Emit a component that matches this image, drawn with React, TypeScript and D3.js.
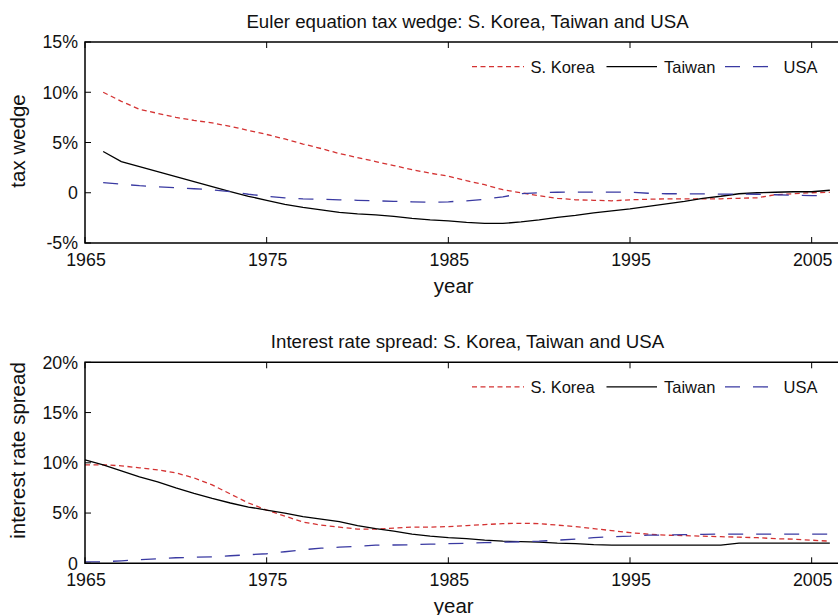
import React from "react";
import * as d3 from "d3";

const yearsTop: number[] = d3.range(1966, 2007);
const yearsBottom: number[] = d3.range(1965, 2007);

const wedgeKorea: number[] = [
  10.0, 9.1, 8.3, 7.9, 7.5, 7.2, 6.95, 6.6, 6.2, 5.8, 5.35, 4.85, 4.4, 3.9, 3.5, 3.1, 2.7, 2.3, 1.95,
  1.65, 1.2, 0.8, 0.3, 0.0, -0.3, -0.55, -0.7, -0.75, -0.8, -0.7, -0.65, -0.6, -0.6, -0.6, -0.6,
  -0.55, -0.5, -0.2, -0.1, 0.0, 0.05,
];
const wedgeTaiwan: number[] = [
  4.1, 3.1, 2.6, 2.1, 1.6, 1.1, 0.6, 0.1, -0.35, -0.75, -1.15, -1.45, -1.7, -1.95, -2.1, -2.2, -2.35,
  -2.55, -2.7, -2.8, -2.95, -3.05, -3.05, -2.9, -2.7, -2.45, -2.25, -2.0, -1.8, -1.6, -1.35, -1.1,
  -0.85, -0.55, -0.35, -0.1, 0.0, 0.05, 0.1, 0.1, 0.25,
];
const wedgeUSA: number[] = [
  1.0, 0.85, 0.7, 0.6, 0.5, 0.4, 0.3, 0.1, -0.15, -0.35, -0.5, -0.6, -0.65, -0.7, -0.75, -0.8, -0.85,
  -0.9, -0.95, -0.9, -0.8, -0.65, -0.4, -0.1, 0.0, 0.05, 0.07, 0.07, 0.07, 0.05, -0.05, -0.1, -0.1,
  -0.12, -0.13, -0.13, -0.15, -0.2, -0.25, -0.28, -0.3,
];

const spreadKorea: number[] = [
  9.8, 9.8, 9.7, 9.5, 9.3, 9.0, 8.5, 7.8, 6.9, 6.0, 5.3, 4.7, 4.1, 3.8, 3.6, 3.4, 3.4, 3.5, 3.6, 3.6,
  3.65, 3.75, 3.85, 3.95, 3.98, 3.95, 3.8, 3.65, 3.45, 3.25, 3.05, 2.9, 2.8, 2.75, 2.7, 2.65, 2.6,
  2.55, 2.45, 2.4, 2.3, 2.2,
];
const spreadTaiwan: number[] = [
  10.3, 9.8, 9.2, 8.6, 8.1, 7.5, 6.95, 6.45, 6.0, 5.6, 5.3, 5.0, 4.65, 4.4, 4.15, 3.75, 3.45, 3.2,
  2.9, 2.7, 2.55, 2.45, 2.3, 2.2, 2.15, 2.1, 2.0, 1.95, 1.85, 1.8, 1.8, 1.8, 1.8, 1.8, 1.8, 1.8, 2.0,
  2.0, 2.0, 2.0, 2.0, 2.0,
];
const spreadUSA: number[] = [
  0.15, 0.15, 0.25, 0.35, 0.45, 0.55, 0.6, 0.65, 0.75, 0.85, 0.95, 1.15, 1.35, 1.5, 1.6, 1.7, 1.8,
  1.82, 1.85, 1.9, 1.95, 2.0, 2.05, 2.1, 2.15, 2.2, 2.3, 2.4, 2.55, 2.65, 2.7, 2.8, 2.82, 2.85, 2.88,
  2.9, 2.9, 2.9, 2.9, 2.9, 2.9, 2.9,
];

const xTicks: number[] = [1965, 1975, 1985, 1995, 2005];
const topYTicks: number[] = [-5, 0, 5, 10, 15];
const bottomYTicks: number[] = [0, 5, 10, 15, 20];
const seriesNames: string[] = ["S. Korea", "Taiwan", "USA"];

const COLORS = ["#d43232", "#000000", "#3a3aa2"];
const DASHES = ["5,3.5", "none", "15,13"];
const FONT = "'Liberation Sans', Arial, Helvetica, sans-serif";

const fmtPct = (v: number) => (v === 0 ? "0" : `${v}%`);

type PanelProps = {
  top: number;
  bottom: number;
  yDomain: [number, number];
  yTicks: number[];
  years: number[];
  series: number[][];
  title: string;
  yLabel: string;
  yLabelCenter: number;
};

const X0 = 85;
const X1 = 848;

function Panel({ top, bottom, yDomain, yTicks, years, series, title, yLabel, yLabelCenter }: PanelProps) {
  const x = d3.scaleLinear().domain([1965, 2007]).range([X0, X1]);
  const y = d3.scaleLinear().domain(yDomain).range([bottom, top]);
  const line = d3
    .line<number>()
    .x((_, i) => x(years[i]))
    .y((d) => y(d));
  const tickLen = 6;
  const legendY = top + 24.6;
  const legendItems = [
    { x1: 472, x2: 524, tx: 530.5 },
    { x1: 606.5, x2: 657, tx: 664 },
    { x1: 725, x2: 769, tx: 783.5 },
  ];
  return (
    <g>
      <text x={467.5} y={top - 14} textAnchor="middle" fontSize={18.7} fontFamily={FONT} fill="#111">
        {title}
      </text>
      {series.map((s, i) => (
        <path
          key={i}
          d={line(s) || ""}
          fill="none"
          stroke={COLORS[i]}
          strokeWidth={1.3}
          strokeDasharray={DASHES[i]}
        />
      ))}
      <path
        d={`M${X0},${top}H${X1}V${bottom}H${X0}Z`}
        fill="none"
        stroke="#000"
        strokeWidth={1.5}
      />
      {xTicks.map((t) => (
        <g key={t}>
          <line x1={x(t)} x2={x(t)} y1={bottom} y2={bottom - tickLen} stroke="#000" strokeWidth={1} />
          <line x1={x(t)} x2={x(t)} y1={top} y2={top + tickLen} stroke="#000" strokeWidth={1} />
          <text x={x(t) + 1} y={bottom + 22.5} textAnchor="middle" fontSize={17.8} fontFamily={FONT} fill="#111">
            {t}
          </text>
        </g>
      ))}
      {yTicks.map((t) => (
        <g key={t}>
          <line x1={X0} x2={X0 + tickLen} y1={y(t)} y2={y(t)} stroke="#000" strokeWidth={1} />
          <text
            x={78}
            y={y(t)}
            dy="0.36em"
            textAnchor="end"
            fontSize={17.8}
            fontFamily={FONT}
            fill="#111"
          >
            {fmtPct(t)}
          </text>
        </g>
      ))}
      <text
        x={453.7}
        y={bottom + 50}
        textAnchor="middle"
        fontSize={20.5}
        fontFamily={FONT}
        fill="#111"
      >
        year
      </text>
      <text
        transform={`translate(25,${yLabelCenter}) rotate(-90)`}
        textAnchor="middle"
        fontSize={20.5}
        fontFamily={FONT}
        fill="#111"
      >
        {yLabel}
      </text>
      {legendItems.map((it, i) => (
        <g key={i}>
          <line
            x1={it.x1}
            x2={it.x2}
            y1={legendY}
            y2={legendY}
            stroke={COLORS[i]}
            strokeWidth={1.3}
            strokeDasharray={DASHES[i]}
          />
          <text x={it.tx} y={legendY} dy="0.36em" fontSize={16.5} fontFamily={FONT} fill="#111">
            {seriesNames[i]}
          </text>
        </g>
      ))}
    </g>
  );
}

export default function App() {
  return (
    <div style={{ position: "fixed", left: 0, top: 0, width: 838, height: 615, background: "#fff" }}>
      <svg width={838} height={615} viewBox="0 0 838 615" style={{ display: "block", overflow: "hidden" }}>
        <rect width={838} height={615} fill="#fff" />
        <Panel
          top={42}
          bottom={243}
          yDomain={[-5, 15]}
          yTicks={topYTicks}
          years={yearsTop}
          series={[wedgeKorea, wedgeTaiwan, wedgeUSA]}
          title="Euler equation tax wedge: S. Korea, Taiwan and USA"
          yLabel="tax wedge"
          yLabelCenter={141}
        />
        <Panel
          top={362.3}
          bottom={563.3}
          yDomain={[0, 20]}
          yTicks={bottomYTicks}
          years={yearsBottom}
          series={[spreadKorea, spreadTaiwan, spreadUSA]}
          title="Interest rate spread: S. Korea, Taiwan and USA"
          yLabel="interest rate spread"
          yLabelCenter={450.5}
        />
      </svg>
    </div>
  );
}
